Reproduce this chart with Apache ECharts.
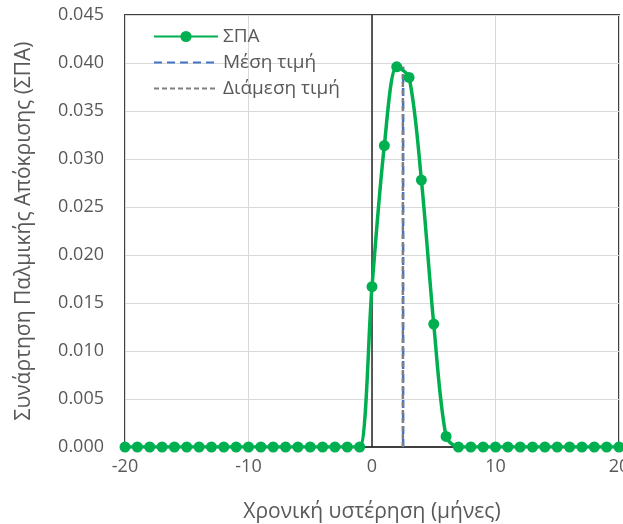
<!DOCTYPE html>
<html>
<head>
<meta charset="utf-8">
<script src="https://cdn.jsdelivr.net/npm/echarts@6/dist/echarts.min.js"></script>
<style>
  html, body { margin: 0; padding: 0; background: #fff; }
  #chart { width: 623px; height: 524px; }
</style>
</head>
<body>
<div id="chart"></div>
<script>
// Lags in months and impulse response values
const lags = [-20,-19,-18,-17,-16,-15,-14,-13,-12,-11,-10,-9,-8,-7,-6,-5,-4,-3,-2,-1,
  0,1,2,3,4,5,6,7,8,9,10,11,12,13,14,15,16,17,18,19,20];
const irfValues = [0,0,0,0,0,0,0,0,0,0,0,0,0,0,0,0,0,0,0,0,
  0.0167,0.0314,0.0396,0.0385,0.0278,0.0128,0.0011,0,0,0,0,0,0,0,0,0,0,0,0,0,0];
const meanLag = 2.52;
const medianLag = 2.5;
const lineTop = 0.0396;

const xTicks = [-20, -10, 0, 10, 20];
const yTickStep = 0.005;

const seriesNames = ['ΣΠΑ', 'Μέση τιμή', 'Διάμεση τιμή'];
const xTitle = 'Χρονική υστέρηση (μήνες)';
const yTitle = 'Συνάρτηση Παλμικής Απόκρισης (ΣΠΑ)';

const FONT = '"Open Sans", "Noto Sans", sans-serif';
const TXT = '#595959';

const chart = echarts.init(document.getElementById('chart'), null, { renderer: 'canvas' });

chart.setOption({
  animation: false,
  grid: {
    left: 125, right: 4, top: 15, bottom: 77,
    outerBoundsMode: 'none', containLabel: false,
    show: true, borderColor: '#404040', borderWidth: 2, backgroundColor: '#fff'
  },
  legend: {
    left: 148, top: 22, orient: 'vertical', itemGap: 7,
    itemWidth: 64, itemHeight: 14,
    textStyle: { fontFamily: FONT, fontSize: 19, color: TXT },
    data: [
      { name: seriesNames[0] },
      { name: seriesNames[1], itemStyle: { opacity: 0 } },
      { name: seriesNames[2], itemStyle: { opacity: 0 } }
    ]
  },
  xAxis: {
    type: 'value', min: xTicks[0], max: xTicks[xTicks.length - 1], interval: 10,
    name: xTitle, nameLocation: 'middle', nameGap: 55,
    nameTextStyle: { fontFamily: FONT, fontSize: 21, color: TXT },
    axisLine: { show: true, onZero: false, lineStyle: { color: '#404040', width: 2 } },
    axisTick: { show: false },
    axisLabel: { fontFamily: FONT, fontSize: 18, color: TXT, margin: 11 },
    splitLine: { show: true, lineStyle: { color: '#d9d9d9', width: 1 } }
  },
  yAxis: {
    type: 'value', min: 0, max: 0.045, interval: yTickStep,
    name: yTitle, nameLocation: 'middle', nameGap: 90, nameRotate: 90,
    nameTextStyle: { fontFamily: FONT, fontSize: 21, color: TXT },
    axisLine: { show: false },
    axisTick: { show: false },
    axisLabel: {
      fontFamily: FONT, fontSize: 18, color: TXT, margin: 21,
      formatter: v => v.toFixed(3)
    },
    splitLine: { show: true, lineStyle: { color: '#d9d9d9', width: 1 } }
  },
  series: [
    {
      name: seriesNames[0], type: 'line', smooth: 0.3, z: 5,
      data: lags.map((x, i) => [x, irfValues[i]]),
      symbol: 'circle', symbolSize: 11,
      lineStyle: { color: '#00B050', width: 3.5 },
      itemStyle: { color: '#00B050' },
      markLine: {
        silent: true, symbol: 'none', label: { show: false },
        lineStyle: { color: '#262626', width: 1.5, type: 'solid' },
        data: [{ xAxis: 0 }]
      }
    },
    {
      name: seriesNames[1], type: 'line', z: 3,
      data: [[meanLag, 0], [meanLag, lineTop]],
      symbol: 'none',
      lineStyle: { color: '#4472C4', width: 2.5, type: [8, 5] },
      itemStyle: { color: '#4472C4' }
    },
    {
      name: seriesNames[2], type: 'line', z: 4,
      data: [[medianLag, 0], [medianLag, lineTop]],
      symbol: 'none',
      lineStyle: { color: '#7F7F7F', width: 2.5, type: [5, 3] },
      itemStyle: { color: '#7F7F7F' }
    }
  ]
});
</script>
</body>
</html>
